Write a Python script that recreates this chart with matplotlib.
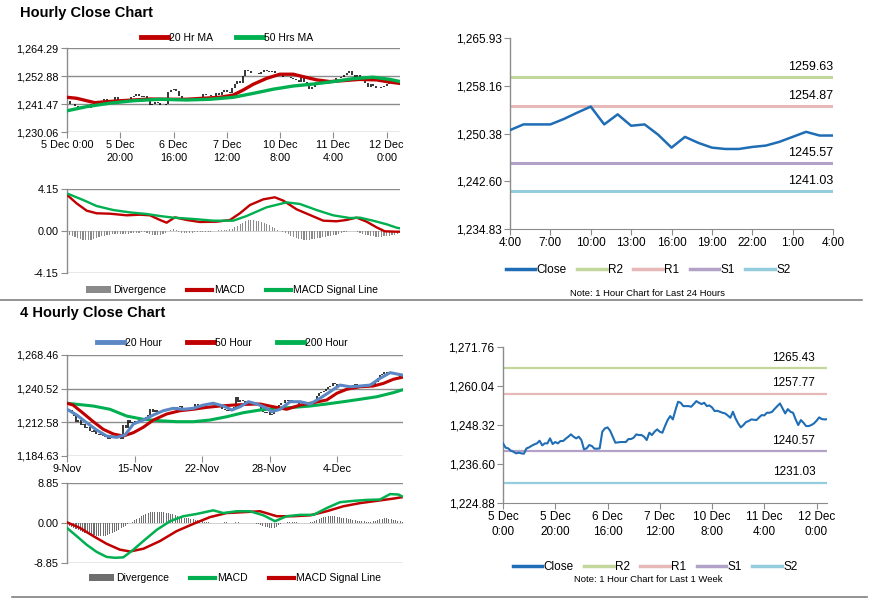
import matplotlib

matplotlib.use("Agg")
import matplotlib.pyplot as plt
import numpy as np
from matplotlib.lines import Line2D
from matplotlib.patches import Patch

plt.rcParams["font.family"] = ["Liberation Sans", "DejaVu Sans"]

W, H = 873, 601

# ---- hourly close, 5 Dec 0:00 .. 12 Dec 4:00 (one value per hour) ----
close_1w = [
    1242.8, 1241.5, 1241.3, 1240.6, 1240.3, 1239.8, 1240.0, 1239.8, 1239.7, 1241.3,
    1241.6, 1242.1, 1242.5, 1242.8, 1243.6, 1242.2, 1242.8, 1242.8, 1244.3, 1242.6,
    1243.2, 1242.8, 1243.5, 1243.5, 1244.2, 1244.8, 1245.5, 1244.8, 1244.3, 1244.8,
    1243.8, 1241.0, 1241.3, 1242.3, 1242.0, 1241.2, 1241.2, 1241.3, 1246.3, 1247.3,
    1247.6, 1246.6, 1244.8, 1243.0, 1243.1, 1243.2, 1243.2, 1243.2, 1244.1, 1244.1,
    1244.5, 1245.5, 1245.3, 1245.3, 1244.8, 1243.8, 1246.0, 1245.3, 1246.3, 1247.0,
    1246.3, 1246.0, 1248.0, 1249.8, 1251.0, 1250.0, 1252.8, 1255.3, 1255.0, 1254.0,
    1254.0, 1254.0, 1253.8, 1254.6, 1255.5, 1255.0, 1254.6, 1255.0, 1254.0, 1254.2,
    1253.6, 1252.5, 1252.6, 1252.3, 1252.0, 1251.8, 1251.2, 1250.5, 1252.3, 1250.3,
    1248.8, 1247.6, 1248.3, 1249.2, 1249.5, 1250.0, 1249.9, 1249.8, 1250.6, 1251.3,
    1251.2, 1252.0, 1252.0, 1252.3, 1253.2, 1254.0, 1254.8, 1253.3, 1251.8, 1253.1,
    1252.3, 1252.0, 1250.0, 1248.3, 1249.8, 1249.0, 1248.0, 1248.0, 1248.3, 1248.8,
    1249.6, 1250.6, 1250.1, 1250.0, 1250.05,
]
hour_ticks = [0, 20, 40, 60, 80, 100, 120]
hour_labels_a = ["5 Dec 0:00", "5 Dec\n20:00", "6 Dec\n16:00", "7 Dec\n12:00",
                 "10 Dec\n8:00", "11 Dec\n4:00", "12 Dec\n0:00"]
hour_labels_f = ["5 Dec\n0:00", "5 Dec\n20:00", "6 Dec\n16:00", "7 Dec\n12:00",
                 "10 Dec\n8:00", "11 Dec\n4:00", "12 Dec\n0:00"]

ma20_x = [0, 3.6, 7.4, 10.5, 13.6, 18.6, 24.9, 31.1, 38.6, 44.9, 51.1, 57.4, 62.4,
          66.2, 69.9, 74.9, 79.9, 84.9, 88.7, 93.7, 98.7, 103.7, 109.9, 116.2, 121.2, 124.7]
ma20_y = [1244.2, 1243.8, 1242.8, 1242.0, 1242.3, 1242.7, 1243.1, 1243.5, 1243.4, 1243.4,
          1243.8, 1244.2, 1245.1, 1247.2, 1249.5, 1251.9, 1253.6, 1253.6, 1252.6, 1251.3,
          1250.6, 1251.0, 1251.5, 1251.3, 1250.4, 1249.9]
ma50_x = [0, 7.4, 16.1, 24.9, 34.9, 44.9, 53.7, 62.4, 69.9, 77.4, 84.9, 92.4, 99.9,
          107.4, 114.9, 121.2, 124.7]
ma50_y = [1238.7, 1240.4, 1241.8, 1242.8, 1243.4, 1243.1, 1243.4, 1244.2, 1245.8, 1247.5,
          1248.8, 1249.6, 1250.6, 1251.8, 1252.4, 1251.5, 1250.7]

# ---- hourly MACD ----
macd_h_x = [0.5, 3.6, 7.4, 11.1, 16.1, 22.4, 27.4, 31.1, 34.9, 37.4, 40.5, 44.9, 49.9,
            56.2, 61.2, 64.9, 68.7, 73.7, 78, 81.2, 86.2, 91.2, 96.2, 101.2, 104.9,
            108.7, 112.5, 116.2, 119.3, 123.7, 124.7]
macd_h_y = [3.46, 2.73, 2.01, 1.75, 1.71, 1.55, 1.61, 1.55, 1.09, 0.82, 1.35, 1.09, 0.89,
            0.92, 1.09, 1.75, 2.57, 3.13, 3.33, 3.00, 2.14, 1.58, 1.02, 0.96, 1.09,
            1.32, 0.92, 0.36, -0.03, -0.07, -0.07]
sig_h_x = [0.5, 6.1, 11.1, 17.4, 23.6, 29.9, 34.9, 39.9, 47.4, 54.9, 62.4, 67.4, 74.9,
           82.4, 87.4, 93.7, 99.9, 106.2, 109.9, 114.9, 120, 123.7, 124.7]
sig_h_y = [3.66, 3.06, 2.47, 2.07, 1.84, 1.68, 1.48, 1.32, 1.19, 1.02, 1.02, 1.48, 2.34,
           2.83, 2.67, 2.07, 1.55, 1.28, 1.32, 1.02, 0.66, 0.33, 0.28]
div_h = [
    -0.2, -0.35, -0.5, -0.6, -0.7, -0.8, -0.85, -0.9, -0.9, -0.85,
    -0.8, -0.7, -0.6, -0.5, -0.45, -0.4, -0.35, -0.3, -0.3, -0.3,
    -0.3, -0.28, -0.25, -0.25, -0.22, -0.2, -0.2, -0.15, -0.1, -0.1,
    -0.2, -0.3, -0.35, -0.4, -0.4, -0.35, -0.3, -0.2, 0.0, 0.1,
    0.15, 0.05, -0.1, -0.15, -0.15, -0.2, -0.2, -0.15, -0.1, -0.1,
    -0.1, -0.05, -0.05, -0.05, -0.05, 0.0, 0.0, 0.05, 0.1, 0.1,
    0.1, 0.15, 0.2, 0.35, 0.5, 0.65, 0.8, 0.95, 1.05, 1.05,
    1.05, 1.0, 0.95, 0.9, 0.8, 0.7, 0.55, 0.4, 0.25, 0.1,
    0.0, -0.05, -0.15, -0.3, -0.45, -0.55, -0.65, -0.75, -0.8, -0.85,
    -0.85, -0.85, -0.8, -0.75, -0.7, -0.65, -0.6, -0.55, -0.5, -0.45,
    -0.4, -0.35, -0.3, -0.2, -0.1, -0.05, 0.0, 0.0, 0.0, -0.1,
    -0.2, -0.3, -0.35, -0.4, -0.45, -0.5, -0.55, -0.55, -0.55, -0.5,
    -0.5, -0.45, -0.4, -0.35, -0.3,
]

# ---- last 24 hours ----
close_24h = [1250.93, 1251.86, 1251.86, 1251.86, 1252.74, 1253.78, 1254.76, 1251.86,
             1253.50, 1251.64, 1251.86, 1250.20, 1248.08, 1249.83, 1248.85, 1248.08,
             1247.86, 1247.86, 1248.19, 1248.41, 1249.01, 1249.83, 1250.65, 1250.05,
             1250.05]
h24_ticks = [0, 3, 6, 9, 12, 15, 18, 21, 24]
h24_labels = ["4:00", "7:00", "10:00", "13:00", "16:00", "19:00", "22:00", "1:00", "4:00"]
levels_24h = {"R2": 1259.63, "R1": 1254.87, "S1": 1245.57, "S2": 1241.03}
levels_1w = {"R2": 1265.43, "R1": 1257.77, "S1": 1240.57, "S2": 1231.03}

# ---- 4 hourly close, 9 Nov .. 12 Dec ----
close_4h = [
    1223.4, 1222.5, 1221.4, 1218.0, 1213.1, 1214.5, 1210.4, 1211.5, 1207.6, 1208.5,
    1205.5, 1204.8, 1206.0, 1203.0, 1202.1, 1203.5, 1201.0, 1200.1, 1198.5, 1200.5,
    1200.6, 1199.5, 1201.0, 1200.1, 1198.8, 1210.4, 1208.0, 1214.5, 1212.0, 1213.1,
    1214.0, 1213.5, 1214.5, 1216.0, 1215.5, 1217.2, 1219.0, 1224.0, 1221.4, 1222.5,
    1221.0, 1222.0, 1223.0, 1221.8, 1222.8, 1224.0, 1223.5, 1225.0, 1224.0, 1225.5,
    1226.1, 1224.5, 1223.0, 1222.2, 1223.0, 1222.5, 1223.4, 1228.0, 1225.5, 1226.9,
    1227.5, 1226.8, 1227.8, 1228.5, 1227.5, 1228.4, 1228.0, 1227.2, 1226.9, 1224.0,
    1222.5, 1222.2, 1223.5, 1224.0, 1225.5, 1234.0, 1229.5, 1231.1, 1230.0, 1228.9,
    1229.5, 1228.0, 1228.4, 1227.5, 1228.0, 1226.9, 1224.0, 1221.5, 1220.1, 1221.0,
    1218.5, 1219.5, 1222.0, 1225.0, 1226.9, 1229.0, 1228.5, 1231.1, 1230.0, 1231.5,
    1230.5, 1229.5, 1228.5, 1227.8, 1226.5, 1225.5, 1225.0, 1226.5, 1227.5, 1228.4,
    1231.0, 1234.5, 1236.7, 1237.5, 1238.5, 1240.0, 1242.0, 1243.0, 1245.0, 1244.0,
    1243.0, 1242.7, 1243.5, 1242.0, 1241.6, 1242.5, 1243.0, 1243.5, 1244.5, 1242.5,
    1241.6, 1242.5, 1243.0, 1243.5, 1244.0, 1243.0, 1243.5, 1246.0, 1249.0, 1251.9,
    1253.0, 1254.5, 1253.8, 1254.0, 1253.0, 1253.3, 1252.0, 1251.5, 1250.4, 1251.0,
]
day_ticks = [0, 30, 60, 90, 120]
day_labels = ["9-Nov", "15-Nov", "22-Nov", "28-Nov", "4-Dec"]

m20_x = [0, 4.3, 8.7, 13.2, 17.6, 22.1, 25.8, 29.5, 33.9, 38.4, 42.8, 47.2, 51.7, 56.1,
         60.6, 65, 69.5, 73.2, 76.9, 80.6, 84.3, 88, 91, 94.7, 99.1, 103.6, 108, 112.4,
         116.9, 121.3, 125.8, 130.2, 134.7, 139.1, 143.6, 148.8]
m20_y = [1223.4, 1218.7, 1212.3, 1206.2, 1201.2, 1200.1, 1202.1, 1211.2, 1214.5, 1218.7,
         1222.2, 1224.2, 1223.4, 1224.2, 1226.9, 1228.4, 1226.1, 1222.8, 1225.5, 1229.7,
         1227.8, 1225.0, 1221.4, 1223.4, 1229.7, 1229.7, 1227.8, 1232.5, 1238.0, 1243.5,
         1242.1, 1242.7, 1243.5, 1249.1, 1253.8, 1251.9]
m50_x = [0, 2.7, 7.2, 11.7, 16.1, 20.6, 25, 29.5, 33.9, 38.4, 44.3, 50.2, 56.1, 62.1, 68,
         73.9, 79.9, 85.8, 91.7, 97.6, 103.6, 109.5, 115.4, 119.9, 124.3, 130.2, 136.1,
         140.6, 145, 148.8]
m50_y = [1228.4, 1226.9, 1220.1, 1213.1, 1206.8, 1202.9, 1201.2, 1204.0, 1208.5, 1214.5,
         1219.5, 1222.2, 1223.4, 1225.0, 1226.1, 1226.9, 1227.5, 1227.8, 1225.5, 1223.4,
         1226.9, 1228.9, 1231.1, 1236.7, 1240.0, 1242.1, 1242.7, 1244.9, 1248.3, 1249.9]
m200_x = [0, 11.7, 19.1, 26.5, 33.9, 41.3, 48.7, 56.1, 63.5, 70.9, 78.4, 85.8, 93.2,
          100.6, 108, 115.4, 122.8, 130.2, 137.6, 145, 148.8]
m200_y = [1228.4, 1226.1, 1223.4, 1217.8, 1215.1, 1213.9, 1213.1, 1213.1, 1214.5, 1217.2,
          1220.6, 1222.8, 1224.2, 1225.0, 1226.1, 1227.8, 1229.7, 1231.7, 1233.8, 1237.2,
          1239.4]

# ---- 4 hourly MACD ----
macd_4_x = [0, 4.3, 8.7, 13.2, 17.6, 21.3, 25, 29.5, 33.9, 39.9, 45.8, 51.7, 57.6, 65,
            69.5, 75.4, 81.3, 87.3, 92.4, 97.6, 103.6, 109.5, 115.4, 121.3, 127.3, 133.2,
            139.1, 143.6, 147.3, 148.8]
macd_4_y = [-1.1, -2.9, -4.8, -6.4, -7.5, -7.7, -7.6, -5.9, -4.0, -1.5, 0.4, 1.5, 2.0, 2.8,
            2.2, 2.6, 2.6, 1.7, 0.4, 1.5, 1.8, 1.8, 3.3, 4.6, 4.9, 5.1, 5.2, 6.4, 6.3, 5.9]
sig_4_x = [0, 5.8, 11.7, 17.6, 23.5, 28, 33.9, 41.3, 48.7, 56.1, 63.5, 70.9, 78.4, 85.8,
           93.2, 100.6, 108, 115.4, 122.8, 130.2, 137.6, 145, 148.8]
sig_4_y = [0.15, -1.1, -2.9, -4.6, -5.9, -6.3, -5.7, -4.0, -1.8, -0.2, 1.3, 2.2, 2.4, 2.6,
           1.5, 1.5, 1.7, 2.6, 3.7, 4.4, 4.9, 5.4, 5.7]
div_4 = [
    -0.3, -0.6, -0.9, -1.2, -1.4, -1.6, -1.8, -2.0, -2.2, -2.4,
    -2.5, -2.6, -2.7, -2.8, -2.9, -2.9, -2.9, -2.8, -2.7, -2.5,
    -2.3, -2.1, -1.8, -1.5, -1.2, -0.9, -0.6, -0.3, 0.0, 0.3,
    0.6, 0.9, 1.2, 1.5, 1.8, 2.0, 2.2, 2.4, 2.5, 2.5,
    2.5, 2.5, 2.5, 2.4, 2.3, 2.2, 2.1, 2.0, 1.8, 1.6,
    1.4, 1.3, 1.2, 1.1, 1.0, 0.9, 0.8, 0.7, 0.6, 0.5,
    0.4, 0.3, 0.2, 0.2, 0.1, 0.1, 0.1, 0.1, 0.1, 0.1,
    0.2, 0.2, 0.1, 0.1, 0.1, 0.2, 0.2, 0.1, 0.1, 0.0,
    0.0, 0.1, 0.0, -0.1, -0.2, -0.3, -0.5, -0.6, -0.8, -0.9,
    -1.0, -1.1, -1.0, -0.8, -0.5, -0.3, -0.1, 0.1, 0.2, 0.3,
    0.3, 0.2, 0.2, 0.1, 0.1, 0.1, 0.0, 0.1, 0.2, 0.3,
    0.5, 0.7, 0.9, 1.1, 1.3, 1.4, 1.5, 1.6, 1.6, 1.5,
    1.4, 1.3, 1.2, 1.1, 1.0, 0.9, 0.8, 0.7, 0.6, 0.5,
    0.5, 0.4, 0.4, 0.3, 0.3, 0.3, 0.4, 0.5, 0.7, 0.8,
    0.9, 1.0, 1.0, 0.9, 0.8, 0.7, 0.6, 0.5, 0.4, 0.3,
]

yt_a = [1230.06, 1241.47, 1252.88, 1264.29]
yt_b = [-4.15, 0.0, 4.15]
yt_c = [1234.83, 1242.60, 1250.38, 1258.16, 1265.93]
yt_d = [1184.63, 1212.58, 1240.52, 1268.46]
yt_e = [-8.85, 0.0, 8.85]
yt_f = [1224.88, 1236.60, 1248.32, 1260.04, 1271.76]

RED = "#c00000"
GREEN = "#00b050"
BLUE20 = "#5b87c5"
CLOSE = "#1f6db5"
GRID = "#8c8c8c"
BARGREY = "#8a8a8a"
LEVEL_COLORS = {"R2": "#c3d69b", "R1": "#e6b9b8", "S1": "#b3a2c7", "S2": "#93cddd"}

fig = plt.figure(figsize=(W / 100, H / 100), dpi=100, facecolor="white")


def px_axes(x0, y0, x1, y1):
    return fig.add_axes([x0 / W, 1 - y1 / H, (x1 - x0) / W, (y1 - y0) / H])


def fpos(x, y):
    return (x / W, 1 - y / H)


def base_style(ax, yticks, fs, fmt="{:,.2f}", grid=True):
    ax.set_facecolor("white")
    for s in ("top", "right", "bottom"):
        ax.spines[s].set_visible(False)
    ax.spines["left"].set_color(GRID)
    ax.spines["left"].set_linewidth(1.0)
    ax.set_ylim(yticks[0], yticks[-1])
    ax.set_yticks(yticks)
    ax.set_yticklabels([fmt.format(v) for v in yticks], fontsize=fs)
    ax.tick_params(axis="y", direction="out", length=4, color=GRID, pad=2)
    ax.tick_params(axis="x", direction="out", length=4, color=GRID, pad=2)
    if grid:
        for v in yticks:
            ax.axhline(v, color=GRID, lw=1.0, zorder=0.5)


def price_bars(ax, vals):
    vals = np.asarray(vals)
    x = np.arange(len(vals))
    ax.vlines(x[1:], np.minimum(vals[:-1], vals[1:]), np.maximum(vals[:-1], vals[1:]),
              color="black", lw=1.1, zorder=2)


# ---------- A: hourly close with MAs ----------
ax_a = px_axes(67, 48, 400, 132)
base_style(ax_a, yt_a, 7.8)
ax_a.set_xlim(0, 125)
price_bars(ax_a, close_1w)
ax_a.plot(ma20_x, ma20_y, color=RED, lw=2.4, zorder=3)
ax_a.plot(ma50_x, ma50_y, color=GREEN, lw=2.4, zorder=4)
ax_a.set_xticks(hour_ticks)
ax_a.set_xticklabels(hour_labels_a, fontsize=7.8, linespacing=1.3)
fig.legend(handles=[Line2D([], [], color=RED, lw=3.5), Line2D([], [], color=GREEN, lw=3.5)],
           labels=["20 Hr MA", "50 Hrs MA"], loc="center", bbox_to_anchor=fpos(227, 38),
           ncol=2, frameon=False, fontsize=7.5, handlelength=2.6, handletextpad=0.1,
           columnspacing=2.2)

# ---------- B: hourly MACD ----------
ax_b = px_axes(67, 189, 400, 273)
base_style(ax_b, yt_b, 7.8, grid=False)
ax_b.axhline(yt_b[0], color=GRID, lw=1.0, zorder=0.5)
ax_b.axhline(yt_b[-1], color=GRID, lw=1.0, zorder=0.5)
ax_b.axhline(0, color="#c8c8c8", lw=0.6, zorder=0.5)
ax_b.set_xlim(0, 125)
ax_b.bar(np.arange(len(div_h)), div_h, width=0.45, color=BARGREY, zorder=1)
ax_b.plot(macd_h_x, macd_h_y, color=RED, lw=1.7, zorder=3)
ax_b.plot(sig_h_x, sig_h_y, color=GREEN, lw=1.7, zorder=4)
ax_b.set_xticks([])
fig.legend(handles=[Patch(facecolor=BARGREY, edgecolor="none"),
                    Line2D([], [], color=RED, lw=3), Line2D([], [], color=GREEN, lw=3)],
           labels=["Divergence", "MACD", "MACD Signal Line"], loc="center",
           bbox_to_anchor=fpos(232, 290), ncol=3, frameon=False, fontsize=7.5,
           handlelength=2.4, handleheight=0.6, handletextpad=0.2, columnspacing=2.0)

# ---------- C: last 24 hours ----------
ax_c = px_axes(510, 38, 833, 229)
base_style(ax_c, yt_c, 8.5, grid=False)
ax_c.spines["bottom"].set_visible(True)
ax_c.spines["bottom"].set_color(GRID)
ax_c.set_xlim(0, 24)
ax_c.plot(np.arange(len(close_24h)), close_24h, color=CLOSE, lw=1.8, zorder=3)
for name, v in levels_24h.items():
    ax_c.axhline(v, color=LEVEL_COLORS[name], lw=2.2, zorder=2)
    ax_c.annotate(f"{v:.2f}", (24, v), xytext=(0, 3), textcoords="offset points",
                  ha="right", va="bottom", fontsize=9)
ax_c.set_xticks(h24_ticks)
ax_c.set_xticklabels(h24_labels, fontsize=8.5)
handles_lv = [Line2D([], [], color=CLOSE, lw=2.5)] + \
    [Line2D([], [], color=LEVEL_COLORS[n], lw=2.5) for n in ("R2", "R1", "S1", "S2")]
fig.legend(handles=handles_lv, labels=["Close", "R2", "R1", "S1", "S2"], loc="center",
           bbox_to_anchor=fpos(648, 270), ncol=5, frameon=False, fontsize=8.5,
           handlelength=2.5, handletextpad=0.1, columnspacing=0.9)
fig.text(648 / W, 1 - 293 / H, "Note: 1 Hour Chart for Last 24 Hours", ha="center",
         va="center", fontsize=6.8)

# ---------- D: 4 hourly close with MAs ----------
ax_d = px_axes(67, 355, 403, 456)
base_style(ax_d, yt_d, 7.8)
ax_d.set_xlim(0, 149.3)
price_bars(ax_d, close_4h)
ax_d.plot(m200_x, m200_y, color=GREEN, lw=2.2, zorder=3)
ax_d.plot(m50_x, m50_y, color=RED, lw=2.2, zorder=4)
ax_d.plot(m20_x, m20_y, color=BLUE20, lw=2.2, zorder=5)
ax_d.set_xticks(day_ticks)
ax_d.set_xticklabels(day_labels, fontsize=7.8)
fig.legend(handles=[Line2D([], [], color=BLUE20, lw=3.5), Line2D([], [], color=RED, lw=3.5),
                    Line2D([], [], color=GREEN, lw=3.5)],
           labels=["20 Hour", "50 Hour", "200 Hour"], loc="center",
           bbox_to_anchor=fpos(222, 343), ncol=3, frameon=False, fontsize=7.5,
           handlelength=2.6, handletextpad=0.1, columnspacing=2.4)

# ---------- E: 4 hourly MACD ----------
ax_e = px_axes(67, 483, 403, 563)
base_style(ax_e, yt_e, 7.8, grid=False)
ax_e.axhline(yt_e[0], color=GRID, lw=1.0, zorder=0.5)
ax_e.axhline(yt_e[-1], color=GRID, lw=1.0, zorder=0.5)
ax_e.axhline(0, color="#c8c8c8", lw=0.6, zorder=0.5)
ax_e.set_xlim(0, 149.3)
ax_e.bar(np.arange(len(div_4)), div_4, width=0.45, color="#6e6e6e", zorder=1)
ax_e.plot(sig_4_x, sig_4_y, color=RED, lw=1.8, zorder=3)
ax_e.plot(macd_4_x, macd_4_y, color=GREEN, lw=1.8, zorder=4)
ax_e.set_xticks([])
fig.legend(handles=[Patch(facecolor="#6e6e6e", edgecolor="none"),
                    Line2D([], [], color=GREEN, lw=3), Line2D([], [], color=RED, lw=3)],
           labels=["Divergence", "MACD", "MACD Signal Line"], loc="center",
           bbox_to_anchor=fpos(235, 578), ncol=3, frameon=False, fontsize=7.5,
           handlelength=2.4, handleheight=0.6, handletextpad=0.2, columnspacing=2.0)

# ---------- F: last week hourly ----------
ax_f = px_axes(503, 347, 827, 503)
base_style(ax_f, yt_f, 8.5, grid=False)
ax_f.spines["bottom"].set_visible(True)
ax_f.spines["bottom"].set_color(GRID)
ax_f.set_xlim(0, 124)
ax_f.plot(np.arange(len(close_1w)), close_1w, color=CLOSE, lw=1.5, zorder=3)
for name, v in levels_1w.items():
    ax_f.axhline(v, color=LEVEL_COLORS[name], lw=1.6, zorder=2)
    ax_f.annotate(f"{v:.2f}", (119.5, v), xytext=(0, 3), textcoords="offset points",
                  ha="right", va="bottom", fontsize=8.5)
ax_f.set_xticks(hour_ticks)
ax_f.set_xticklabels(hour_labels_f, fontsize=8.5, linespacing=1.3)
fig.legend(handles=handles_lv, labels=["Close", "R2", "R1", "S1", "S2"], loc="center",
           bbox_to_anchor=fpos(655, 567), ncol=5, frameon=False, fontsize=8.5,
           handlelength=2.5, handletextpad=0.1, columnspacing=0.9)
fig.text(648 / W, 1 - 579 / H, "Note: 1 Hour Chart for Last 1 Week", ha="center",
         va="center", fontsize=6.8)

# ---------- titles and separators ----------
fig.text(20 / W, 1 - 13 / H, "Hourly Close Chart", fontsize=10.5, fontweight="bold",
         va="center", ha="left")
fig.text(20 / W, 1 - 313 / H, "4 Hourly Close Chart", fontsize=10.5, fontweight="bold",
         va="center", ha="left")
fig.add_artist(Line2D([0, 862 / W], [1 - 300 / H] * 2, color="#808080", lw=1.2))
fig.add_artist(Line2D([12 / W, 867 / W], [1 - 597 / H] * 2, color="#808080", lw=1.2))

fig.savefig("out.png", dpi=100, facecolor="white")
plt.close(fig)
